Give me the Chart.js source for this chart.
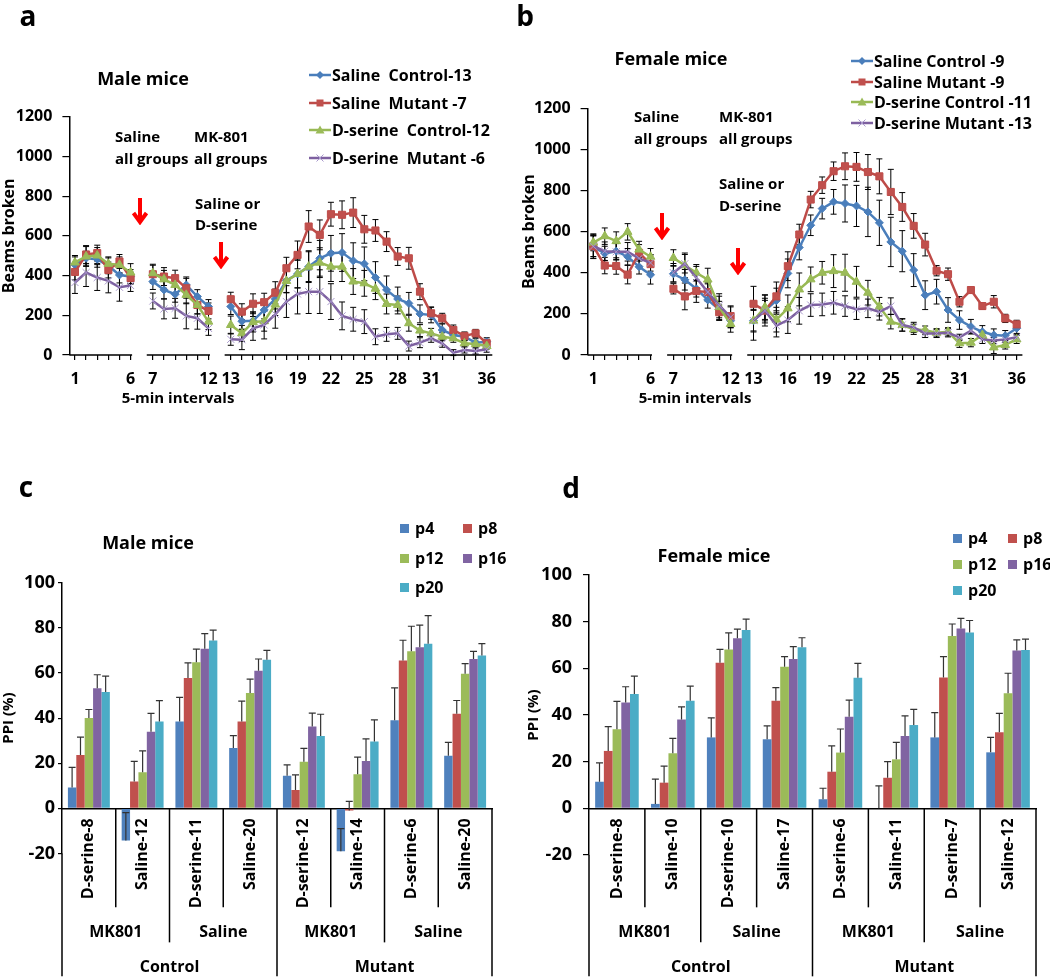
<!DOCTYPE html>
<html lang="en">
<head>
<meta charset="UTF-8" />
<title>Locomotion and PPI, male and female mice</title>
<script src="https://cdn.jsdelivr.net/npm/chart.js@4.4.1/dist/chart.umd.min.js"></script>
<style>
  body { margin: 0; background: #fff; }
  #fig { position: relative; width: 1050px; height: 979px; overflow: hidden;
         font-family: 'Open Sans', sans-serif; font-weight: 700; color: #000; }
  #fig canvas { position: absolute; }
  .c { position: absolute; white-space: pre; line-height: 1; transform: translate(-50%, -50%); }
  .l { position: absolute; white-space: pre; line-height: 1; transform: translateY(-50%); display: flex; align-items: center; }
  .letter { font-size: 28px; }
  .title { font-size: 18px; }
  .note { font-size: 15px; }
  .key { font-size: 16px; }
  .sw { display: inline-block; width: 9px; height: 9px; margin-right: 6px; }
  .arrow { position: absolute; }
</style>
</head>
<body>
<div id="fig">
  <canvas id="chartA" width="520" height="440" style="left:0;top:0"></canvas>
  <canvas id="chartB" width="530" height="440" style="left:520px;top:0"></canvas>
  <canvas id="chartC" width="525" height="529" style="left:0;top:450px"></canvas>
  <canvas id="chartD" width="525" height="529" style="left:525px;top:450px"></canvas>

  <div class="c letter" style="left:28px;top:15px">a</div>
  <div class="c letter" style="left:525px;top:15px">b</div>
  <div class="c letter" style="left:26px;top:486px">c</div>
  <div class="c letter" style="left:571px;top:487px">d</div>

  <div class="c title" style="left:143px;top:78px">Male mice</div>
  <div class="c title" style="left:671px;top:58px">Female mice</div>
  <div class="c title" style="left:148px;top:542px">Male mice</div>
  <div class="c title" style="left:714px;top:555px">Female mice</div>

  <!-- panel a notes -->
  <div class="l note" style="left:115px;top:136px">Saline</div>
  <div class="l note" style="left:115px;top:158px">all groups</div>
  <div class="l note" style="left:194px;top:136px">MK-801</div>
  <div class="l note" style="left:194px;top:158px">all groups</div>
  <div class="l note" style="left:195px;top:203px">Saline or</div>
  <div class="l note" style="left:195px;top:224px">D-serine</div>
  <svg class="arrow" style="left:131px;top:197px" width="18" height="28"><path d="M9 1V24M2.5 16L9 25L15.5 16" stroke="#f00" stroke-width="4" fill="none"/></svg>
  <svg class="arrow" style="left:212px;top:241px" width="18" height="28"><path d="M9 1V24M2.5 16L9 25L15.5 16" stroke="#f00" stroke-width="4" fill="none"/></svg>
  <div class="c note" style="left:178px;top:397px">5-min intervals</div>

  <!-- panel b notes -->
  <div class="l note" style="left:634px;top:116px">Saline</div>
  <div class="l note" style="left:634px;top:138px">all groups</div>
  <div class="l note" style="left:719px;top:116px">MK-801</div>
  <div class="l note" style="left:719px;top:138px">all groups</div>
  <div class="l note" style="left:719px;top:183px">Saline or</div>
  <div class="l note" style="left:719px;top:205px">D-serine</div>
  <svg class="arrow" style="left:653px;top:212px" width="18" height="28"><path d="M9 1V24M2.5 16L9 25L15.5 16" stroke="#f00" stroke-width="4" fill="none"/></svg>
  <svg class="arrow" style="left:729px;top:247px" width="18" height="28"><path d="M9 1V24M2.5 16L9 25L15.5 16" stroke="#f00" stroke-width="4" fill="none"/></svg>
  <div class="c note" style="left:695px;top:397px">5-min intervals</div>
</div>

<script>
// ---- data: open field, beams broken per 5-min interval (1..36) ----
const intervalLabels = ['1','','','','','6','','7','','','','','12','','13','','','16','','','19','','',
  '22','','','25','','','28','','','31','','','','','36'];
const LINE_GAPS = [6, 13];   // empty slots between the injection phases

const maleSalineControl = [454,487,482,449,403,395, 370,328,306,353,294,244,
  244,170,172,227,282,375,408,445,487,512,516,475,459,390,328,282,260,207,202,126,101,92,62,67];
const maleSalineMutant = [418,506,513,428,471,387, 407,395,387,336,252,222,
  281,218,258,266,314,437,504,647,605,709,706,717,633,627,571,496,487,319,210,185,126,96,109,59];
const maleDserineControl = [466,496,501,459,454,415, 412,381,353,303,252,168,
  151,109,166,170,254,373,408,445,465,445,445,370,361,334,257,252,160,123,109,92,84,59,55,45];
const maleDserineMutant = [365,415,390,373,341,350, 272,232,235,197,185,134,
  79,77,134,151,205,269,307,319,319,269,197,180,168,92,104,109,45,62,84,59,12,25,20,29];

const maleSalineControlErr = [40,35,40,40,40,35, 40,45,40,40,35,35,
  40,40,45,45,50,60,70,80,90,90,95,90,85,80,70,60,55,45,40,30,25,20,20,20];
const maleSalineMutantErr = [40,45,40,40,35,30, 45,45,40,50,45,40,
  35,40,50,45,55,55,70,80,75,60,70,75,70,55,50,45,55,40,30,25,25,20,20,20];
const maleDserineControlErr = [35,50,40,35,40,45, 45,45,40,45,45,40,
  45,40,50,50,55,60,70,75,75,75,75,65,65,55,50,45,40,30,25,20,20,15,15,15];
const maleDserineMutantErr = [55,70,65,60,70,30, 40,50,50,65,55,35,
  30,50,60,70,70,80,100,110,110,90,70,60,60,40,35,30,25,25,20,20,15,15,15,15];

const femaleSalineControl = [526,494,505,478,429,390, 395,366,322,268,221,167,
  167,216,265,397,523,631,712,745,737,725,696,643,550,505,413,291,308,219,170,138,113,97,94,130];
const femaleSalineMutant = [529,435,433,391,497,442, 322,285,311,306,208,189,
  249,216,285,432,586,756,826,894,918,915,890,869,793,720,628,537,410,393,259,316,238,259,178,149];
const femaleDserineControl = [547,578,554,599,513,478, 472,436,400,367,233,151,
  167,233,172,227,319,368,400,408,400,356,303,235,162,146,125,121,108,113,57,60,97,37,49,76];
const femaleDserineMutant = [529,505,502,502,470,448, 400,444,376,306,241,184,
  167,216,143,170,215,243,246,254,238,223,227,210,238,146,134,105,105,108,86,118,76,70,76,86];

const femaleSalineControlErr = [55,35,40,40,35,45, 40,50,40,40,40,35,
  50,50,60,70,60,50,50,60,90,100,120,110,120,100,80,70,60,60,45,35,30,30,25,25];
const femaleSalineMutantErr = [60,40,40,45,40,45, 25,65,55,40,35,50,
  85,75,70,70,50,40,40,45,65,70,85,85,110,70,60,55,25,30,25,15,15,30,20,20];
const femaleDserineControlErr = [40,40,45,40,40,40, 40,60,40,55,65,40,
  95,60,60,65,80,60,55,80,90,75,60,45,35,30,25,20,20,20,20,20,15,30,20,20];
const femaleDserineMutantErr = [50,45,40,45,35,40, 45,45,55,45,45,50,
  55,60,55,65,65,55,55,55,50,50,45,40,40,30,25,20,20,20,15,15,20,15,15,15];

// ---- data: PPI (%) by prepulse ----
const prepulseNames = ['p4', 'p8', 'p12', 'p16', 'p20'];
const drugLevel = ['MK801', 'Saline', 'MK801', 'Saline'];
const genotypeLevel = ['Control', 'Mutant'];

const maleGroups = ['D-serine-8','Saline-12','D-serine-11','Saline-20','D-serine-12','Saline-14','D-serine-6','Saline-20'];
const maleP4  = [9.2, -14.2, 38.5, 26.7, 14.4, -19.0, 39.0, 23.3];
const maleP8  = [23.7, 11.9, 57.8, 38.5, 8.1, -0.9, 65.5, 41.9];
const maleP12 = [40.0, 16.0, 64.7, 51.1, 20.7, 15.1, 69.6, 59.7];
const maleP16 = [53.2, 34.0, 70.7, 61.0, 36.3, 21.0, 71.4, 66.2];
const maleP20 = [51.6, 38.5, 74.4, 65.9, 32.1, 29.6, 73.0, 67.7];
const maleP4Err  = [9.0, 12.3, 10.7, 5.5, 4.9, 10.0, 14.4, 5.9];
const maleP8Err  = [7.9, 8.9, 6.7, 9.0, 6.7, 4.0, 9.0, 5.9];
const maleP12Err = [3.8, 9.5, 5.9, 6.2, 5.9, 7.6, 11.1, 4.4];
const maleP16Err = [6.0, 8.1, 6.7, 5.2, 5.9, 9.8, 9.8, 3.4];
const maleP20Err = [7.0, 9.2, 4.6, 4.1, 9.6, 9.6, 12.4, 5.3];

const femaleGroups = ['D-serine-8','Saline-10','D-serine-10','Saline-17','D-serine-6','Saline-11','D-serine-7','Saline-12'];
const femaleP4  = [11.4, 1.9, 30.4, 29.6, 3.9, 0, 30.4, 24.0];
const femaleP8  = [24.6, 11.0, 62.4, 46.1, 15.7, 13.1, 56.1, 32.6];
const femaleP12 = [33.9, 23.6, 68.1, 60.7, 23.9, 21.0, 73.9, 49.3];
const femaleP16 = [45.4, 38.1, 72.9, 64.0, 39.3, 31.0, 77.1, 67.6];
const femaleP20 = [49.0, 46.1, 76.4, 69.0, 56.0, 35.7, 75.4, 67.9];
const femaleP4Err  = [8.1, 10.6, 8.4, 5.7, 4.7, 9.6, 10.6, 6.4];
const femaleP8Err  = [10.4, 7.1, 5.7, 5.6, 11.1, 6.9, 8.9, 8.1];
const femaleP12Err = [11.9, 6.4, 7.1, 4.3, 10.1, 7.3, 5.1, 8.6];
const femaleP16Err = [6.7, 5.4, 3.9, 5.3, 7.1, 8.6, 4.3, 4.6];
const femaleP20Err = [7.7, 6.3, 4.7, 4.1, 6.1, 6.7, 5.1, 4.6];

const barColors = ['#4F81BD', '#C0504D', '#9BBB59', '#8064A2', '#4BACC6'];

// ---- helpers ----
function withGaps(vals) {
  const out = vals.slice();
  out.splice(12, 0, null);
  out.splice(6, 0, null);
  return out;
}

Chart.defaults.font.family = "'Open Sans', sans-serif";
Chart.defaults.font.weight = 'bold';
Chart.defaults.color = '#000';

function drawErrorBars(chart, o) {
  const ctx = chart.ctx, y = chart.scales.y;
  ctx.save();
  ctx.strokeStyle = o.color;
  ctx.lineWidth = o.width;
  chart.data.datasets.forEach((ds, di) => {
    chart.getDatasetMeta(di).data.forEach((el, i) => {
      const v = ds.data[i], e = ds.errors[i];
      if (v == null || e == null) return;
      const top = y.getPixelForValue(v + e);
      const bottom = y.getPixelForValue(o.both ? v - e : v);
      ctx.beginPath();
      ctx.moveTo(el.x, top); ctx.lineTo(el.x, bottom);
      ctx.moveTo(el.x - o.cap, top); ctx.lineTo(el.x + o.cap, top);
      if (o.both) { ctx.moveTo(el.x - o.cap, bottom); ctx.lineTo(el.x + o.cap, bottom); }
      ctx.stroke();
    });
  });
  ctx.restore();
}

const errorBarPlugin = {
  id: 'errorBars',
  beforeDatasetsDraw(chart, args, o) { if (!o.after) drawErrorBars(chart, o); },
  afterDatasetsDraw(chart, args, o) { if (o.after) drawErrorBars(chart, o); }
};

// x axis line interrupted at the injection gaps
const brokenAxisPlugin = {
  id: 'brokenAxis',
  afterDraw(chart) {
    const {ctx, chartArea} = chart, x = chart.scales.x;
    const step = x.getPixelForValue(1) - x.getPixelForValue(0);
    const runs = [];
    let start = null;
    intervalLabels.forEach((_, i) => {
      const gap = LINE_GAPS.includes(i);
      if (!gap && start === null) start = i;
      if ((gap || i === intervalLabels.length - 1) && start !== null) {
        runs.push([start, gap ? i - 1 : i]);
        start = null;
      }
    });
    ctx.save();
    ctx.strokeStyle = '#000';
    ctx.lineWidth = 1.5;
    ctx.beginPath();
    runs.forEach(([a, b], k) => {
      const x1 = k === 0 ? chartArea.left : x.getPixelForValue(a) - step * 0.55;
      const x2 = k === runs.length - 1 ? chartArea.right : x.getPixelForValue(b) + 1.5;
      ctx.moveTo(x1, chartArea.bottom);
      ctx.lineTo(x2, chartArea.bottom);
    });
    ctx.stroke();
    ctx.restore();
  }
};

// two extra category levels under the bar charts, with their divider lines
const groupAxisPlugin = {
  id: 'groupAxis',
  afterDraw(chart, args, o) {
    const {ctx, chartArea} = chart, x = chart.scales.x, y = chart.scales.y;
    const y0 = y.getPixelForValue(0);
    const n = chart.data.labels.length;
    const edge = i => i === 0 ? chartArea.left : i === n ? chartArea.right
      : (x.getPixelForValue(i - 1) + x.getPixelForValue(i)) / 2;
    ctx.save();
    ctx.strokeStyle = '#000';
    ctx.lineWidth = 1.5;
    for (let i = 0; i <= n; i++) {
      let depth = o.subDepth;
      if (i % 2 === 0) depth = o.midDepth;
      if (i % 4 === 0) depth = o.fullDepth;
      const px = edge(i);
      ctx.beginPath();
      ctx.moveTo(px, i === 0 ? chartArea.bottom : y0);
      ctx.lineTo(px, y0 + depth);
      ctx.stroke();
    }
    ctx.fillStyle = '#000';
    ctx.font = "bold 16px 'Open Sans'";
    ctx.textAlign = 'center';
    ctx.textBaseline = 'middle';
    o.level2.forEach((t, k) => ctx.fillText(t, (edge(2 * k) + edge(2 * k + 2)) / 2, y0 + o.level2Off));
    o.level3.forEach((t, k) => ctx.fillText(t, (edge(4 * k) + edge(4 * k + 4)) / 2, y0 + o.level3Off));
    ctx.restore();
  }
};

function makeLineChart(id, series, area) {
  return new Chart(document.getElementById(id), {
    type: 'line',
    data: {
      labels: intervalLabels,
      datasets: series.map((s, i) => ({
        label: s.label,
        data: withGaps(s.values),
        errors: withGaps(s.errors),
        borderColor: s.color,
        backgroundColor: s.fill,
        pointBackgroundColor: s.fill,
        pointBorderColor: s.edge,
        pointStyle: s.marker,
        pointRadius: s.radius,
        pointBorderWidth: 1,
        borderWidth: 2.5,
        spanGaps: false,
        order: series.length - i
      }))
    },
    options: {
      responsive: false,
      animation: false,
      devicePixelRatio: 1,
      layout: { padding: { top: area.top, right: area.right, left: 0, bottom: 0 } },
      plugins: {
        legend: { display: false },
        tooltip: { enabled: false },
        errorBars: { both: true, color: '#000', width: 1, cap: 3, after: false }
      },
      scales: {
        x: {
          offset: true,
          afterFit: s => { s.height = area.xHeight; },
          border: { display: false },
          grid: {
            drawOnChartArea: false, tickLength: 5, lineWidth: 1.2,
            color: ctx => LINE_GAPS.includes(ctx.index) ? 'rgba(0,0,0,0)' : '#000'
          },
          ticks: { autoSkip: false, maxRotation: 0, padding: 10, font: { size: 16, weight: 'bold' }, color: '#000' }
        },
        y: {
          min: 0, max: 1200,
          afterFit: s => { s.width = area.yWidth; },
          border: { color: '#000', width: 1.5 },
          grid: { drawOnChartArea: false, tickLength: 7, color: '#000', lineWidth: 1.2 },
          ticks: { stepSize: 200, padding: area.tickPad, font: { size: 16, weight: 'bold' }, color: '#000',
                   callback: v => String(v) },
          title: { display: true, text: 'Beams broken', font: { size: 16, weight: 'bold' }, color: '#000', padding: 0 }
        }
      }
    },
    plugins: [errorBarPlugin, brokenAxisPlugin]
  });
}

function makeBarChart(id, groups, values, errors, area) {
  return new Chart(document.getElementById(id), {
    type: 'bar',
    data: {
      labels: groups,
      datasets: prepulseNames.map((name, i) => ({
        label: name,
        data: values[i],
        errors: errors[i],
        backgroundColor: barColors[i],
        borderWidth: 0,
        categoryPercentage: 0.78,
        barPercentage: 1
      }))
    },
    options: {
      responsive: false,
      animation: false,
      devicePixelRatio: 1,
      layout: { padding: { top: area.top, right: area.right, bottom: area.bottom, left: 0 } },
      plugins: {
        legend: { display: false },
        tooltip: { enabled: false },
        errorBars: { both: false, color: '#333', width: 1.2, cap: 3.5, after: true },
        groupAxis: {
          level2: drugLevel, level3: genotypeLevel,
          subDepth: 99, midDepth: 134, fullDepth: 168, level2Off: 124, level3Off: 159
        }
      },
      scales: {
        x: {
          position: { y: 0 },
          afterFit: s => { s.height = 0; },
          border: { color: '#000', width: 1.5 },
          grid: { display: false, drawTicks: false },
          ticks: { autoSkip: false, minRotation: 90, maxRotation: 90, padding: 10, font: { size: 16, weight: 'bold' }, color: '#000' }
        },
        y: {
          min: -20, max: 100,
          afterFit: s => { s.width = area.yWidth; },
          border: { color: '#000', width: 1.5 },
          grid: { drawOnChartArea: false, tickLength: area.tickLen, color: '#000', lineWidth: 1.2 },
          ticks: { stepSize: 20, padding: area.tickPad, font: { size: 18, weight: 'bold' }, color: '#000',
                   callback: v => String(v) },
          title: { display: true, text: 'PPI (%)', font: { size: 15, weight: 'bold' }, color: '#000', padding: 0 }
        }
      }
    },
    plugins: [errorBarPlugin, groupAxisPlugin]
  });
}

const lineStyles = [
  { color: '#4A7EBB', fill: '#4A7EBB', edge: '#4A7EBB', marker: 'rectRot', radius: 4 },
  { color: '#BE4B48', fill: '#C0504D', edge: '#BE4B48', marker: 'rect', radius: 5 },
  { color: '#98B954', fill: '#9BBB59', edge: '#98B954', marker: 'triangle', radius: 5 },
  { color: '#7D60A0', fill: '#A898CC', edge: '#A898CC', marker: 'crossRot', radius: 5 }
];

const maleSeries = [
  { label: 'Saline  Control-13', values: maleSalineControl, errors: maleSalineControlErr },
  { label: 'Saline  Mutant -7', values: maleSalineMutant, errors: maleSalineMutantErr },
  { label: 'D-serine  Control-12', values: maleDserineControl, errors: maleDserineControlErr },
  { label: 'D-serine  Mutant -6', values: maleDserineMutant, errors: maleDserineMutantErr }
].map((s, i) => Object.assign(s, lineStyles[i]));

const femaleSeries = [
  { label: 'Saline Control -9', values: femaleSalineControl, errors: femaleSalineControlErr },
  { label: 'Saline Mutant -9', values: femaleSalineMutant, errors: femaleSalineMutantErr },
  { label: 'D-serine Control -11', values: femaleDserineControl, errors: femaleDserineControlErr },
  { label: 'D-serine Mutant -13', values: femaleDserineMutant, errors: femaleDserineMutantErr }
].map((s, i) => Object.assign(s, lineStyles[i]));

makeLineChart('chartA', maleSeries, { top: 116.7, right: 27.7, yWidth: 69.4, xHeight: 85, tickPad: 10 });
makeLineChart('chartB', femaleSeries, { top: 108.3, right: 27.6, yWidth: 67.6, xHeight: 85, tickPad: 10 });

makeBarChart('chartC', maleGroups,
  [maleP4, maleP8, maleP12, maleP16, maleP20],
  [maleP4Err, maleP8Err, maleP12Err, maleP16Err, maleP20Err],
  { top: 132.7, right: 33, bottom: 125.5, yWidth: 62, tickLen: 4, tickPad: 3 });
makeBarChart('chartD', femaleGroups,
  [femaleP4, femaleP8, femaleP12, femaleP16, femaleP20],
  [femaleP4Err, femaleP8Err, femaleP12Err, femaleP16Err, femaleP20Err],
  { top: 125, right: 14, bottom: 124, yWidth: 64, tickLen: 6, tickPad: 11 });

// ---- legends (HTML) ----
const fig = document.getElementById('fig');

function markerSvg(s) {
  let m = '';
  if (s.marker === 'rectRot') m = `<polygon points="11,3 15,7 11,11 7,7" fill="${s.fill}"/>`;
  else if (s.marker === 'rect') m = `<rect x="7.5" y="3.5" width="7" height="7" fill="${s.fill}"/>`;
  else if (s.marker === 'triangle') m = `<polygon points="11,2.5 15.5,10.5 6.5,10.5" fill="${s.fill}"/>`;
  else m = `<path d="M7.5 3.5L14.5 10.5M14.5 3.5L7.5 10.5" stroke="${s.edge}" stroke-width="1"/>`;
  return `<svg width="22" height="14" style="margin-right:1px"><line x1="0" y1="7" x2="22" y2="7" stroke="${s.color}" stroke-width="2.5"/>${m}</svg>`;
}

function lineLegend(series, left, top, step) {
  series.forEach((s, i) => {
    const d = document.createElement('div');
    d.className = 'l key';
    d.style.left = left + 'px';
    d.style.top = (top + i * step) + 'px';
    d.innerHTML = markerSvg(s) + '<span></span>';
    d.lastChild.textContent = s.label;
    fig.appendChild(d);
  });
}

function barLegend(cols, rows) {
  prepulseNames.forEach((name, i) => {
    const d = document.createElement('div');
    d.className = 'l key';
    d.style.left = cols[i % 2] + 'px';
    d.style.top = rows[Math.floor(i / 2)] + 'px';
    d.innerHTML = `<span class="sw" style="background:${barColors[i]}"></span><span></span>`;
    d.lastChild.textContent = name;
    fig.appendChild(d);
  });
}

lineLegend(maleSeries, 309, 75, 27.5);
lineLegend(femaleSeries, 851, 61, 20.7);
barLegend([400, 463], [528, 558, 587]);
barLegend([953, 1008], [538, 564, 590]);
</script>
</body>
</html>
